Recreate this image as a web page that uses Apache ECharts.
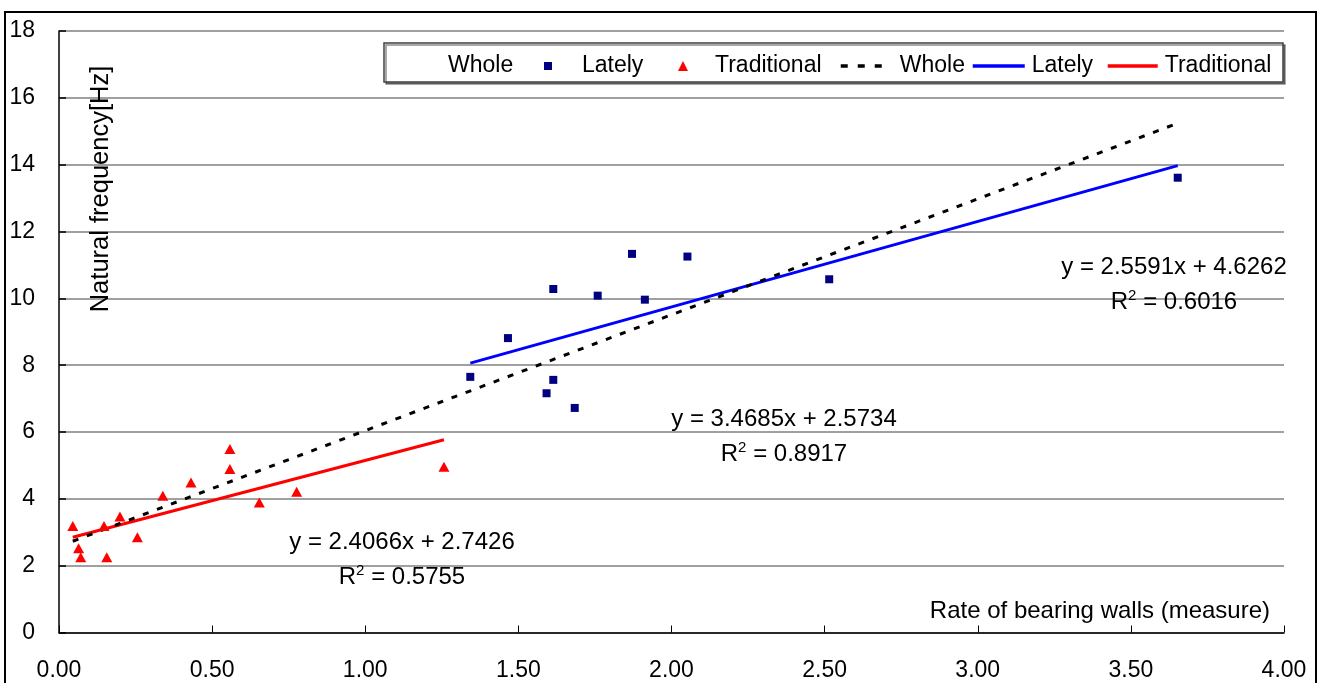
<!DOCTYPE html>
<html>
<head>
<meta charset="utf-8">
<script src="https://cdn.jsdelivr.net/npm/echarts@6/dist/echarts.min.js"></script>
<style>
html,body{margin:0;padding:0;background:#fff;}
#chart{width:1318px;height:683px;}
</style>
</head>
<body>
<div id="chart"></div>
<script>
// ---- data ----
const xTicks = ['0.00','0.50','1.00','1.50','2.00','2.50','3.00','3.50','4.00'];
const yTicks = [0,2,4,6,8,10,12,14,16,18];
const latelyPoints = [
  [1.343,7.65],[1.466,8.81],[1.592,7.16],[1.614,7.56],[1.614,10.28],[1.684,6.72],
  [1.759,10.08],[1.871,11.33],[1.913,9.96],[2.052,11.25],[2.515,10.57],[3.653,13.61]
];
const traditionalPoints = [
  [0.045,3.19],[0.064,2.52],[0.071,2.25],[0.147,3.19],[0.156,2.25],[0.199,3.47],
  [0.256,2.85],[0.339,4.09],[0.431,4.49],[0.558,5.49],[0.558,4.89],[0.654,3.89],
  [0.776,4.21],[1.257,4.96]
];
const wholeTrend = [[0.045,2.73],[3.653,15.24]];
const latelyTrend = [[1.343,8.06],[3.653,13.97]];
const traditionalTrend = [[0.045,2.85],[1.257,5.77]];
const eqWhole = ['y = 3.4685x + 2.5734', '0.8917'];
const eqLately = ['y = 2.5591x + 4.6262', '0.6016'];
const eqTraditional = ['y = 2.4066x + 2.7426', '0.5755'];
const yTitle = 'Natural frequency[Hz]';
const xTitle = 'Rate of bearing walls (measure)';
const displayName = {
  'Whole': 'Whole', 'Lately': 'Lately', 'Traditional': 'Traditional',
  'Whole trend': 'Whole', 'Lately trend': 'Lately', 'Traditional trend': 'Traditional'
};

const FONT = 'Liberation Sans, Arial, sans-serif';
const chart = echarts.init(document.getElementById('chart'), null, {renderer:'canvas'});

function legendText(pad) {
  return {fontFamily: FONT, fontSize: 23, color: '#000', lineHeight: 26, padding: [0,0,0,pad]};
}
function legendItem(name, left, opts) {
  return Object.assign({
    data: [name],
    left: left, top: 53, padding: 0,
    orient: 'horizontal',
    selectedMode: false,
    formatter: n => displayName[n],
    textStyle: legendText(0)
  }, opts);
}

function eqText(x, y, eq, r2) {
  return [
    {type:'text', z:10, style:{x:x, y:y, text:eq, font:'24px ' + FONT, fill:'#000', textAlign:'center', textVerticalAlign:'middle'}},
    {type:'text', z:10, style:{x:x, y:y+35, text:'{a|R}{s|2}{a| = ' + r2 + '}', textAlign:'center', textVerticalAlign:'middle',
      rich:{a:{fontFamily:FONT, fontSize:24, lineHeight:28, color:'#000'},
            s:{fontFamily:FONT, fontSize:15, lineHeight:28, verticalAlign:'top', color:'#000', padding:[0,0,6,0]}}}}
  ];
}

const option = {
  animation: false,
  backgroundColor: '#fff',
  grid: {left: 59, right: 34, top: 31, bottom: 50.5, containLabel: false},
  xAxis: {
    type: 'value', min: 0, max: 4, interval: 0.5,
    axisLine: {lineStyle: {color: '#000', width: 1.5}},
    axisTick: {inside: true, length: 7, lineStyle: {color: '#000', width: 1}},
    axisLabel: {margin: 27, fontFamily: FONT, fontSize: 23, color: '#000',
      formatter: v => xTicks[Math.round(v / 0.5)]},
    splitLine: {show: false}
  },
  yAxis: {
    type: 'value', min: yTicks[0], max: yTicks[yTicks.length-1], interval: 2,
    axisLine: {show: true, lineStyle: {color: '#000', width: 1.5}},
    axisTick: {show: true, inside: true, length: 7, lineStyle: {color: '#000', width: 1.5}},
    axisLabel: {margin: 24, fontFamily: FONT, fontSize: 23, color: '#000'},
    splitLine: {show: true, lineStyle: {color: '#808080', width: 1.5}}
  },
  legend: [
    legendItem('Whole', 435, {itemWidth: 8, itemHeight: 8, data: [{name: 'Whole', icon: 'rect', itemStyle: {opacity: 0}}]}),
    legendItem('Lately', 544, {itemWidth: 8, itemHeight: 8, icon: 'rect', itemStyle: {opacity: 1}, textStyle: legendText(25)}),
    legendItem('Traditional', 678, {itemWidth: 10, itemHeight: 10, icon: 'triangle', itemStyle: {opacity: 1}, textStyle: legendText(22)}),
    legendItem('Whole trend', 839, {itemWidth: 50, itemHeight: 14, itemStyle: {opacity: 0},
      lineStyle: {width: 3.5, type: [7, 10]}, textStyle: legendText(4)}),
    legendItem('Lately trend', 971, {itemWidth: 52, itemHeight: 14, itemStyle: {opacity: 0},
      lineStyle: {width: 3.5}, textStyle: legendText(2)}),
    legendItem('Traditional trend', 1106, {itemWidth: 50, itemHeight: 14, itemStyle: {opacity: 0},
      lineStyle: {width: 3.5}, textStyle: legendText(2)})
  ],
  series: [
    {name: 'Whole', type: 'scatter', symbol: 'none', data: latelyPoints.concat(traditionalPoints), itemStyle: {color: '#000'}},
    {name: 'Lately trend', type: 'line', data: latelyTrend, symbol: 'none', z: 3,
      lineStyle: {color: '#0000ff', width: 3}, itemStyle: {color: '#0000ff'}},
    {name: 'Traditional trend', type: 'line', data: traditionalTrend, symbol: 'none', z: 3,
      lineStyle: {color: '#ff0000', width: 3}, itemStyle: {color: '#ff0000'}},
    {name: 'Whole trend', type: 'line', data: wholeTrend, symbol: 'none', z: 3,
      lineStyle: {color: '#000', width: 3, type: [6, 9]}, itemStyle: {color: '#000'}},
    {name: 'Lately', type: 'scatter', data: latelyPoints, symbol: 'rect', symbolSize: 8, z: 4,
      itemStyle: {color: '#000080', opacity: 1}},
    {name: 'Traditional', type: 'scatter', data: traditionalPoints, symbol: 'triangle', symbolSize: [11, 10], z: 4,
      itemStyle: {color: '#ff0000', opacity: 1}}
  ],
  graphic: [
    {type:'rect', z:-10, shape:{x:5, y:12, width:1311, height:700}, style:{fill:'none', stroke:'#000', lineWidth:2}},
    {type:'rect', z:1, shape:{x:384, y:43, width:899, height:39},
      style:{fill:'#fff', stroke:'#404040', lineWidth:1.5, shadowColor:'rgba(0,0,0,0.45)', shadowOffsetX:2, shadowOffsetY:2, shadowBlur:0}},
    {type:'text', z:10, x:101, y:189, rotation: Math.PI/2,
      style:{x:0, y:0, text:yTitle, font:'25.5px ' + FONT, fill:'#000', textAlign:'center', textVerticalAlign:'middle'}},
    {type:'text', z:10, style:{x:1270, y:611, text:xTitle, font:'24px ' + FONT, fill:'#000', textAlign:'right', textVerticalAlign:'middle'}}
  ].concat(eqText(402, 542, eqTraditional[0], eqTraditional[1]))
   .concat(eqText(784, 419, eqWhole[0], eqWhole[1]))
   .concat(eqText(1174, 267, eqLately[0], eqLately[1]))
};
chart.setOption(option);
</script>
</body>
</html>
